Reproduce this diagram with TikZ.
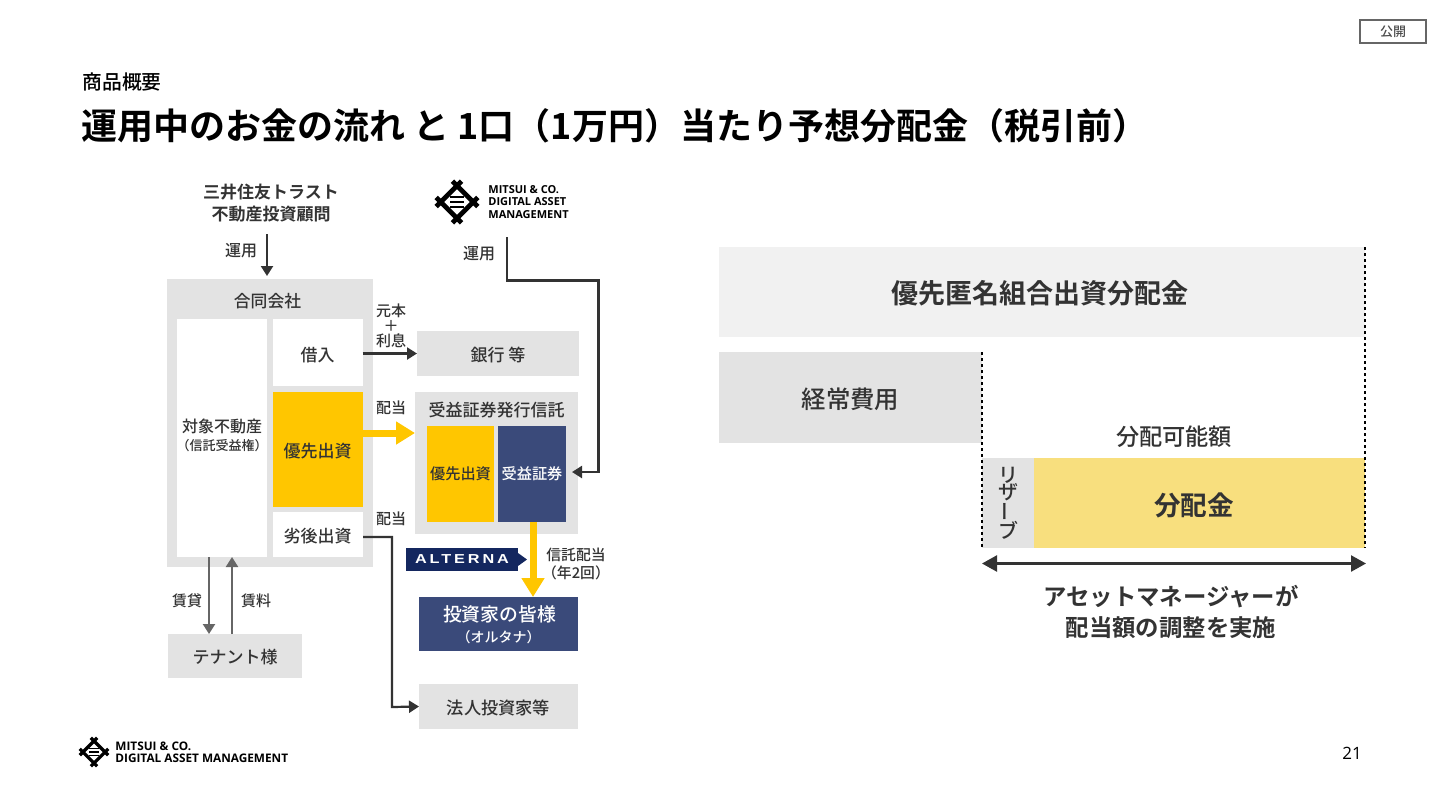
\documentclass[tikz,border=0pt]{standalone}
\usepackage{fontspec}
\setmainfont[BoldFont={Noto Sans CJK JP Bold}]{Noto Sans CJK JP Medium}
\newfontfamily\latinlogo{Open Sans}
\newfontfamily\alternafont[LetterSpace=18]{Liberation Sans}
\usetikzlibrary{arrows.meta}
\definecolor{boxgray}{HTML}{E3E3E3}
\definecolor{bandgray}{HTML}{F1F1F1}
\definecolor{goldy}{HTML}{FFC600}
\definecolor{palegold}{HTML}{F8DF7E}
\definecolor{navy}{HTML}{3A4A7A}
\definecolor{deepnavy}{HTML}{14275F}
\definecolor{inkgray}{HTML}{333333}
\newcommand{\fpx}[1]{\fontsize{#1}{#1}\selectfont}
\newcommand{\dn}[2][.6pt]{\raisebox{-#1}[\height][\depth]{#2}}
\newcommand{\logomark}[3]{%
  \begin{scope}[shift={(#1,#2)},scale=#3]
    \draw[black,line width=#3*2.4pt,rotate=45] (-18,-11.5) -- (18,-11.5) (-18,11.5) -- (18,11.5)
      (-11.5,-18) -- (-11.5,18) (11.5,-18) -- (11.5,18);
    \draw[black,line width=#3*1.3pt] (-7,-5) -- (7,-5) (-7,0) -- (7,0) (-7,5) -- (7,5);
  \end{scope}}
\tikzset{
  box/.style={inner sep=0pt,outer sep=0pt,text=inkgray,align=center},
  txt/.style={inner sep=0pt,text=inkgray,align=center},
  flow/.style={draw=inkgray,line width=1.1pt,-{Triangle[width=6pt,length=5pt]}},
  rent/.style={draw=black!60,line width=1.1pt,-{Triangle[width=6pt,length=5pt]}},
  goldflow/.style={draw=goldy,line width=3.5pt,-{Triangle[width=11pt,length=9.5pt]}},
  limit/.style={draw=black,line width=.7pt,dash pattern=on 1.5pt off 1.5pt},
}
\begin{document}
\begin{tikzpicture}[x=0.5pt,y=-0.5pt]
\useasboundingbox (0,0) rectangle (1440,810);
% header
\node[draw=black!60,line width=.8pt,minimum width=33pt,minimum height=11.5pt,inner sep=0pt,text=black!70,font=\fpx{6.5}] (public) at (1393,31.5) {公開};
\node[txt,anchor=west,text=black,font=\fpx{9.9}] (kicker) at (82,82) {商品概要};
\node[txt,anchor=west,text=black,font=\fpx{18}\bfseries] (title) at (81,126) {運用中のお金の流れ と 1口（1万円）当たり予想分配金（税引前）};
% left: sources
\node[txt,font=\fpx{8.5}\bfseries,text=inkgray] (advisor) at (271,203) {三井住友トラスト\\[2.5pt]不動産投資顧問};
\logomark{457}{202}{1}
\node[txt,anchor=west,align=left,text=black,font=\fpx{5.5}\bfseries\latinlogo] (assetname) at (488,202) {MITSUI \& CO.\\[.9pt]DIGITAL ASSET\\[.9pt]MANAGEMENT};
\node[txt,font=\fpx{8}] (run1) at (241,251) {運用};
\node[txt,font=\fpx{8}] (run2) at (479,254) {運用};
\coordinate (run1top) at (267,234);
\coordinate (run1tip) at (267,276);
\coordinate (run2top) at (507,237);
% left: company
\node[box,fill=boxgray,minimum width=103pt,minimum height=144pt,anchor=north west] (llc) at (167,279) {};
\node[txt,font=\fpx{8.4}] (llclabel) at (267.5,301) {合同会社};
\node[box,fill=white,minimum width=45pt,minimum height=119pt,anchor=north west] (asset) at (177,319) {};
\node[txt,font=\fpx{8}] (assetlabel) at (222,426) {対象不動産};
\node[txt,font=\fpx{6.5}] (assetsub) at (222,446) {（信託受益権）};
\node[box,fill=white,minimum width=45pt,minimum height=33.5pt,anchor=north west,font=\fpx{8.5}] (loan) at (272.5,319) {\dn[1.2pt]{借入}};
\node[box,fill=goldy,minimum width=45pt,minimum height=57.5pt,anchor=north west,font=\fpx{8.5}] (senior) at (272.5,392) {\dn{優先出資}};
\node[box,fill=white,minimum width=45pt,minimum height=22.5pt,anchor=north west,font=\fpx{8.5}] (junior) at (272.5,512) {\dn{劣後出資}};
% left: right column
\node[box,fill=boxgray,minimum width=81pt,minimum height=22.5pt,anchor=north west,font=\fpx{8.5}] (bank) at (417,331) {\dn[.8pt]{銀行 等}};
\node[box,fill=boxgray,minimum width=81.5pt,minimum height=71pt,anchor=north west] (trust) at (415,392) {};
\node[txt,font=\fpx{8.5}] (trustlabel) at (496.5,410) {受益証券発行信託};
\node[box,fill=goldy,minimum width=33.5pt,minimum height=48pt,anchor=north west,font=\fpx{7.6}] (trustsenior) at (427,426) {優先出資};
\node[box,fill=navy,text=white,minimum width=34pt,minimum height=48pt,anchor=north west,font=\fpx{7.6}] (trustcert) at (498,426) {受益証券};
\node[box,fill=navy,text=white,minimum width=79.5pt,minimum height=27pt,anchor=north west] (investor) at (419,597) {};
\node[txt,text=white,font=\fpx{9.4}] (investorlabel) at (499.5,614) {投資家の皆様};
\node[txt,text=white,font=\fpx{7}] (investorsub) at (498.5,637) {（オルタナ）};
\node[box,fill=boxgray,minimum width=79.5pt,minimum height=22.5pt,anchor=north west,font=\fpx{8.6}] (corp) at (419,684) {\dn{法人投資家等}};
\node[box,fill=boxgray,minimum width=67pt,minimum height=22pt,anchor=north west,font=\fpx{8.5}] (tenant) at (168,634) {\dn{テナント様}};
\node[box,fill=deepnavy,text=white,minimum width=56pt,minimum height=11.5pt,anchor=north west,font=\fpx{6.5}\bfseries\alternafont] (alterna) at (406,548) {\scalebox{1.25}[1]{ALTERNA}};
\fill[deepnavy] (518,553) -- (527,559.5) -- (518,566) -- cycle;
% left: labels
\node[txt,font=\fpx{7.5}] (repay) at (391,326) {元本\\[0pt]＋\\[0pt]利息};
\node[txt,font=\fpx{7.5}] (div1) at (391,408) {配当};
\node[txt,font=\fpx{7.5}] (div2) at (391,519) {配当};
\node[txt,font=\fpx{7.4}] (trustdiv) at (576,564) {信託配当\\[2pt]（年2回）};
\node[txt,font=\fpx{7.5}] (lend) at (187,601) {賃貸};
\node[txt,font=\fpx{7.5}] (fee) at (256,601) {賃料};
% left: connectors
\coordinate (goldtip) at (415,433);
\coordinate (juniorout) at (363,537);
\coordinate (certin) at (572,472);
\draw[flow] (run1top) -- (run1tip);
\draw[flow] (run2top) |- (598.5,280.5) |- (certin);
\draw[flow] (loan.east |- bank.west) -- (bank.west);
\draw[goldflow] (senior.east |- goldtip) -- (goldtip);
\draw[flow] (juniorout) -| (392,707) -- (corp.west);
\draw[goldflow] (533,522) -- (533,597);
\draw[rent] (209,557) -- (209,634);
\draw[rent] (232,634) -- (232,557);
% right panel
\node[box,fill=bandgray,minimum width=323pt,minimum height=45pt,anchor=north west] (prefband) at (719,247) {};
\node[txt,font=\fpx{13.5}\bfseries] (preflabel) at (1040,293) {優先匿名組合出資分配金};
\node[box,fill=boxgray,minimum width=131.5pt,minimum height=45.5pt,anchor=north west,font=\fpx{12.2}] (costs) at (719,352) {\dn[.8pt]{経常費用}};
\node[txt,font=\fpx{11.6}] (avail) at (1174,437) {分配可能額};
\node[box,fill=boxgray,minimum width=26pt,minimum height=45pt,anchor=north west,font=\fpx{10},text=inkgray] (reserve) at (982,458) {リ\\[-1.5pt]ザ\\[-1.5pt]\rotatebox[origin=c]{90}{ー}\\[-1.5pt]ブ};
\node[box,fill=palegold,minimum width=165.5pt,minimum height=45pt,anchor=north west] (payout) at (1034,458) {};
\node[txt,font=\fpx{13.3}\bfseries] (payoutlabel) at (1194,505) {分配金};
\draw[limit] (982,352) -- (reserve.south west);
\draw[limit] (prefband.north east) -- (payout.south east);
\draw[draw=inkgray,line width=1.2pt,{Triangle[width=8pt,length=7.5pt]}-{Triangle[width=8pt,length=7.5pt]}] (reserve.south west |- 0,563.5) -- (1366,563.5);
\node[txt,font=\fpx{11.7}\bfseries] (manager) at (1171,612) {アセットマネージャーが\\[4pt]配当額の調整を実施};
% footer
\logomark{94}{752}{.68}
\node[txt,anchor=west,align=left,text=black,font=\fpx{5.9}\bfseries\latinlogo] (footlogo) at (115,752) {MITSUI \& CO.\\[.2pt]DIGITAL ASSET MANAGEMENT};
\node[txt,text=black,font=\fpx{8.5}\latinlogo] (pagenum) at (1352,753) {21};
\end{tikzpicture}
\end{document}
